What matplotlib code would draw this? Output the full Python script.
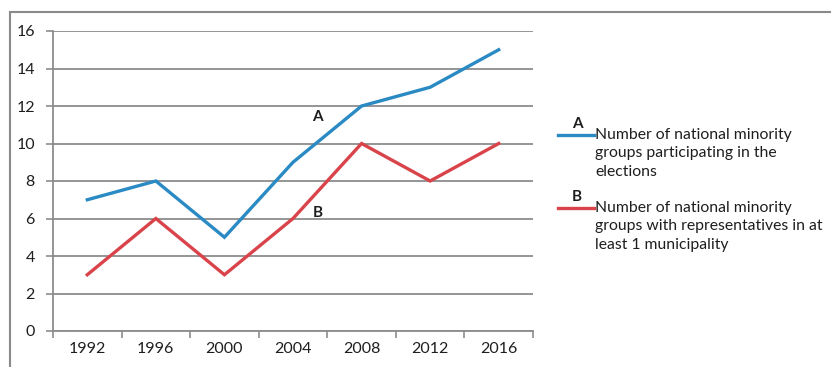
import matplotlib
matplotlib.use("Agg")
import matplotlib.pyplot as plt
from matplotlib.lines import Line2D

years = ["1992", "1996", "2000", "2004", "2008", "2012", "2016"]
participating = [7, 8, 5, 9, 12, 13, 15]
represented = [3, 6, 3, 6, 10, 8, 10]
y_ticks = [0, 2, 4, 6, 8, 10, 12, 14, 16]

label_a = "Number of national minority\ngroups participating in the\nelections"
label_b = "Number of national minority\ngroups with representatives in at\nleast 1 municipality"

blue = "#2a8ac4"
red = "#d9444b"
grid_gray = "#8c8c8c"
text_color = "#1e1e1e"

plt.rcParams["font.family"] = ["Lato", "DejaVu Sans"]

W, H = 831, 367
fig = plt.figure(figsize=(W / 100, H / 100), dpi=100)
ax = fig.add_axes([53 / W, 1 - 331 / H, 480 / W, 300 / H])

x = list(range(len(years)))
ax.plot(x, participating, color=blue, lw=2.4, solid_joinstyle="miter")
ax.plot(x, represented, color=red, lw=2.4, solid_joinstyle="miter")

ax.set_xlim(-0.5, len(years) - 0.5)
ax.set_ylim(0, 16)
ax.set_yticks(y_ticks)
ax.set_yticklabels([str(v) for v in y_ticks])
ax.yaxis.grid(True, color=grid_gray, lw=1.3)
ax.set_axisbelow(True)

# category axis: labels centred, tick marks on the boundaries
ax.set_xticks([i + 0.5 for i in range(-1, len(years))])
ax.set_xticklabels([])
ax.set_xticks(x, minor=True)
ax.set_xticklabels(years, minor=True)
ax.tick_params(axis="x", which="minor", length=0, pad=8,
               labelsize=11.5, labelcolor=text_color)
ax.tick_params(axis="x", which="major", length=5, width=1.2, color=grid_gray)
ax.tick_params(axis="y", length=5, width=1.2, color=grid_gray, pad=8,
               labelsize=11.5, labelcolor=text_color)

for side in ["top", "right"]:
    ax.spines[side].set_visible(False)
for side in ["left", "bottom"]:
    ax.spines[side].set_color(grid_gray)
    ax.spines[side].set_linewidth(1.3)

ax.text(3.36, 11.4, "A", ha="center", va="center", fontsize=11,
        fontweight="bold", color=text_color)
ax.text(3.36, 6.3, "B", ha="center", va="center", fontsize=11,
        fontweight="bold", color=text_color)

# legend drawn by hand to the right of the plot
def fx(px):
    return px / W


def fy(py):
    return 1 - py / H


for color, letter, label, ly in [(blue, "A", label_a, 135), (red, "B", label_b, 208)]:
    fig.add_artist(Line2D([fx(558), fx(594)], [fy(ly), fy(ly)], color=color, lw=2.4))
    fig.text(fx(577), fy(ly - 11), letter, ha="center", va="center",
             fontsize=11, fontweight="bold", color=text_color)
    fig.text(fx(595), fy(ly - 7), label, ha="left", va="top", fontsize=11.3,
             color=text_color, linespacing=1.4)

# outer frame
frame = "#8a8a8a"
fig.add_artist(Line2D([fx(10), fx(830)], [fy(12), fy(12)], color=frame, lw=1.5))
fig.add_artist(Line2D([fx(10), fx(10)], [fy(12), 0], color=frame, lw=1.5))

fig.savefig("out.png", dpi=100)
